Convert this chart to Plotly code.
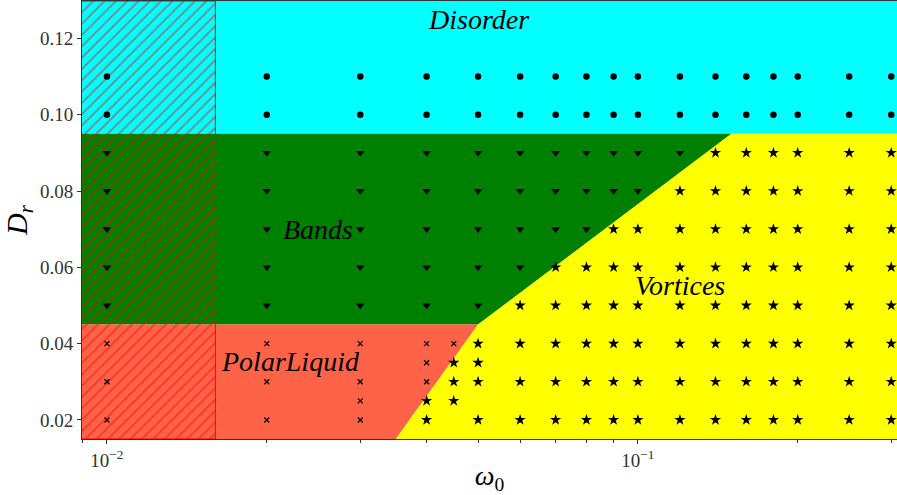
import math
import plotly.graph_objects as go

# ---------------- data ----------------
D_rows_disorder = [0.10, 0.11]
omega_disorder = [0.01, 0.02, 0.03, 0.04, 0.05, 0.06, 0.07, 0.08, 0.09, 0.1,
                  0.12, 0.14, 0.16, 0.18, 0.2, 0.25, 0.3]

bands_rows = {
    0.09: [0.01, 0.02, 0.03, 0.04, 0.05, 0.06, 0.07, 0.08, 0.09, 0.1, 0.12],
    0.08: [0.01, 0.02, 0.03, 0.04, 0.05, 0.06, 0.07, 0.08, 0.09, 0.1],
    0.07: [0.01, 0.02, 0.03, 0.04, 0.05, 0.06, 0.07, 0.08],
    0.06: [0.01, 0.02, 0.03, 0.04, 0.05, 0.06],
    0.05: [0.01, 0.02, 0.03, 0.04, 0.05],
}
vortex_rows = {
    0.09: [0.14, 0.16, 0.18, 0.2, 0.25, 0.3],
    0.08: [0.12, 0.14, 0.16, 0.18, 0.2, 0.25, 0.3],
    0.07: [0.09, 0.1, 0.12, 0.14, 0.16, 0.18, 0.2, 0.25, 0.3],
    0.06: [0.07, 0.08, 0.09, 0.1, 0.12, 0.14, 0.16, 0.18, 0.2, 0.25, 0.3],
    0.05: [0.06, 0.07, 0.08, 0.09, 0.1, 0.12, 0.14, 0.16, 0.18, 0.2, 0.25, 0.3],
    0.04: [0.05, 0.06, 0.07, 0.08, 0.09, 0.1, 0.12, 0.14, 0.16, 0.18, 0.2, 0.25, 0.3],
    0.035: [0.045, 0.05],
    0.03: [0.045, 0.05, 0.06, 0.07, 0.08, 0.09, 0.1, 0.12, 0.14, 0.16, 0.18, 0.2, 0.25, 0.3],
    0.025: [0.04, 0.045],
    0.02: [0.04, 0.05, 0.06, 0.07, 0.08, 0.09, 0.1, 0.12, 0.14, 0.16, 0.18, 0.2, 0.25, 0.3],
}
polar_rows = {
    0.04: [0.01, 0.02, 0.03, 0.04, 0.045],
    0.035: [0.04],
    0.03: [0.01, 0.02, 0.03, 0.04],
    0.025: [0.03],
    0.02: [0.01, 0.02, 0.03],
}

# phase boundaries
D_disorder = 0.095
D_polar = 0.045
bands_vortex_w = [0.05, 0.15]
bands_vortex_D = [0.045, 0.095]
polar_vortex_w = [0.035, 0.05]
polar_vortex_D = [0.015, 0.045]
hatch_w = [0.008, 0.016]

W_MIN, W_MAX = 0.008, 0.4
D_MIN, D_MAX = 0.015, 0.1298

x_range = [-2.047, -0.512]
y_range = [0.015, 0.1298]

y_ticks = [0.02, 0.04, 0.06, 0.08, 0.10, 0.12]
y_ticktext = ["0.02", "0.04", "0.06", "0.08", "0.10", "0.12"]
x_major = [0.01, 0.1]
x_major_text = ["10<sup>\u22122</sup>", "10<sup>\u22121</sup>"]
x_minor = [0.009, 0.02, 0.03, 0.04, 0.05, 0.06, 0.07, 0.08, 0.09, 0.2, 0.3]

phase_labels = ["<i>Disorder</i>", "<i>Bands</i>", "<i>PolarLiquid</i>", "<i>Vortices</i>"]
label_w = [0.05, 0.025, 0.0222, 0.12]
label_D = [0.125, 0.07, 0.0353, 0.0553]


def flatten(rows):
    xs, ys = [], []
    for d, ws in rows.items():
        for w in ws:
            xs.append(w)
            ys.append(d)
    return xs, ys


fig = go.Figure()

# regions
fig.add_trace(go.Scatter(
    x=[W_MIN, W_MAX, W_MAX, W_MIN], y=[D_disorder, D_disorder, D_MAX, D_MAX],
    fill="toself", fillcolor="#00FFFF", mode="none", hoverinfo="skip"))
fig.add_trace(go.Scatter(
    x=[W_MIN, bands_vortex_w[0], bands_vortex_w[1], W_MIN],
    y=[D_polar, bands_vortex_D[0], bands_vortex_D[1], D_disorder],
    fill="toself", fillcolor="#008000", mode="none", hoverinfo="skip"))
fig.add_trace(go.Scatter(
    x=[W_MIN, polar_vortex_w[0], polar_vortex_w[1], W_MIN],
    y=[D_MIN, polar_vortex_D[0], polar_vortex_D[1], D_polar],
    fill="toself", fillcolor="#FF6347", mode="none", hoverinfo="skip"))
fig.add_trace(go.Scatter(
    x=[polar_vortex_w[0], W_MAX, W_MAX, bands_vortex_w[1], bands_vortex_w[0]],
    y=[D_MIN, D_MIN, D_disorder, bands_vortex_D[1], bands_vortex_D[0]],
    fill="toself", fillcolor="#FFFF00", mode="none", hoverinfo="skip"))
# hatched region
fig.add_trace(go.Scatter(
    x=[hatch_w[0], hatch_w[1], hatch_w[1], hatch_w[0], hatch_w[0]],
    y=[D_MIN, D_MIN, D_MAX, D_MAX, D_MIN],
    fill="toself", fillcolor="rgba(0,0,0,0)",
    fillpattern=dict(shape="/", fgcolor="#ff0000", size=8, solidity=0.2),
    mode="lines", line=dict(color="red", width=1), hoverinfo="skip"))

# markers
dx = [w for d in D_rows_disorder for w in omega_disorder]
dy = [d for d in D_rows_disorder for w in omega_disorder]
fig.add_trace(go.Scatter(x=dx, y=dy, mode="markers", cliponaxis=False,
                         marker=dict(symbol="circle", size=6.5, color="black")))
bx, by = flatten(bands_rows)
fig.add_trace(go.Scatter(x=bx, y=by, mode="markers",
                         marker=dict(symbol="triangle-down", size=7.5, color="black")))
vx, vy = flatten(vortex_rows)
fig.add_trace(go.Scatter(x=vx, y=vy, mode="markers", cliponaxis=False,
                         marker=dict(symbol="star", size=8.5, color="black")))
px, py = flatten(polar_rows)
fig.add_trace(go.Scatter(x=px, y=py, mode="markers",
                         marker=dict(symbol="x-thin", size=5, color="black",
                                     line=dict(width=1.3, color="black"))))

lab_font = dict(family="Liberation Serif", size=28, color="black")
for txt, w, d in zip(phase_labels, label_w, label_D):
    fig.add_annotation(x=math.log10(w), y=d, text=txt, showarrow=False,
                       font=lab_font, xanchor="center", yanchor="middle")

tick_font = dict(family="Liberation Serif", size=19, color="#333")
fig.update_xaxes(type="log", range=x_range, showgrid=False, zeroline=False,
                 automargin=False,
                 showline=True, linecolor="#333", linewidth=1, mirror=True,
                 ticks="outside", ticklen=4, tickcolor="#333",
                 tickvals=x_major, ticktext=x_major_text, tickfont=tick_font,
                 minor=dict(tickvals=x_minor, ticks="outside", ticklen=2.5,
                            tickcolor="#333", showgrid=False),
                 title=dict(text="<i>\u03c9</i><sub>0</sub>",
                            font=dict(family="Liberation Serif", size=28, color="black"),
                            standoff=4))
fig.update_yaxes(range=y_range, showgrid=False, zeroline=False,
                 automargin=False,
                 showline=True, linecolor="#333", linewidth=1, mirror=True,
                 ticks="outside", ticklen=4, tickcolor="#333",
                 tickvals=y_ticks, ticktext=y_ticktext, tickfont=tick_font,
                 title=dict(text="<i>D</i><sub><i>r</i></sub>",
                            font=dict(family="Liberation Serif", size=30, color="black"),
                            standoff=6))

fig.update_layout(width=897, height=495, showlegend=False,
                  margin=dict(l=82, r=0, t=1, b=56),
                  plot_bgcolor="white", paper_bgcolor="white")

fig.write_html("out.html", config={"displayModeBar": False},
               post_script="document.body.style.margin='0';document.body.style.overflow='hidden';")
